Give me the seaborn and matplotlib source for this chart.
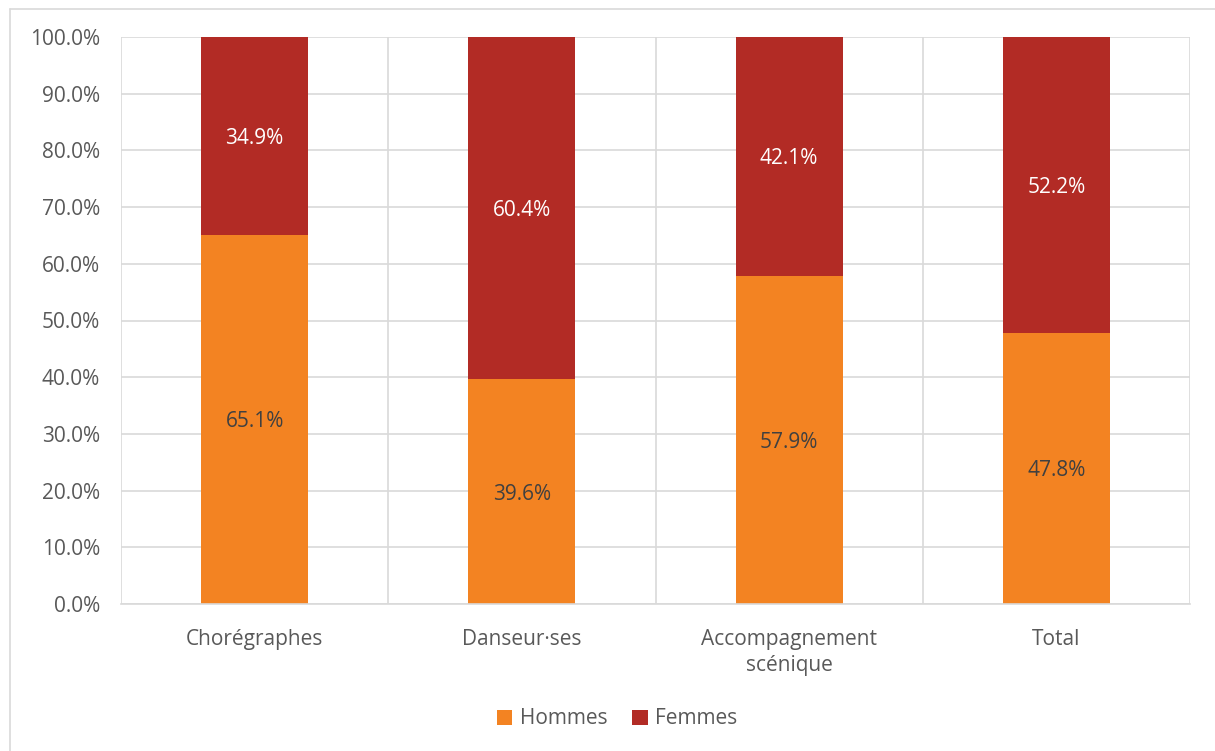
import matplotlib
matplotlib.use("Agg")
import matplotlib.pyplot as plt
import seaborn as sns
import pandas as pd
import numpy as np
from matplotlib.lines import Line2D
from matplotlib.patches import Patch

categories = ["Chorégraphes", "Danseur·ses", "Accompagnement\nscénique", "Total"]
hommes = [65.1, 39.6, 57.9, 47.8]
femmes = [34.9, 60.4, 42.1, 52.2]
series_names = ["Hommes", "Femmes"]
colors = ["#F38322", "#B22B25"]
yticks = [0, 10, 20, 30, 40, 50, 60, 70, 80, 90, 100]

sns.set_theme(style="white")
plt.rcParams["font.family"] = ["Open Sans", "DejaVu Sans"]

FS = 15
W, H = 1215, 751
fig = plt.figure(figsize=(W / 100, H / 100), dpi=100)
ax = fig.add_axes([121 / W, 1 - 604 / H, (1190 - 121) / W, (604 - 37) / H])

df = pd.DataFrame({"cat": categories, "Hommes": hommes, "Femmes": femmes})
df["tot"] = df["Hommes"] + df["Femmes"]

sns.barplot(data=df, x="cat", y="tot", color=colors[1], width=0.4, ax=ax,
            saturation=1, linewidth=0)
sns.barplot(data=df, x="cat", y="Hommes", color=colors[0], width=0.4, ax=ax,
            saturation=1, linewidth=0)

ax.set_ylim(0, 100)
ax.set_xlim(-0.5, 3.5)
ax.set_yticks(yticks)
ax.set_yticklabels([f"{v:.1f}%" for v in yticks], fontsize=FS, color="#595959")
ax.set_xticks(range(len(categories)))
ax.set_xticklabels(categories, fontsize=FS, color="#595959", linespacing=1.3)
ax.set_xlabel("")
ax.set_ylabel("")
ax.tick_params(axis="y", length=0, pad=15)
ax.tick_params(axis="x", length=0, pad=18)

ax.set_xticks(np.arange(-0.5, len(categories), 1.0), minor=True)
ax.tick_params(axis="x", which="minor", length=0)
ax.grid(True, axis="y", color="#D9D9D9", linewidth=1.2, zorder=0)
ax.grid(True, axis="x", which="minor", color="#D9D9D9", linewidth=1.2, zorder=0)
ax.grid(False, axis="x", which="major")
ax.set_axisbelow(True)
for s in ["top", "right", "left"]:
    ax.spines[s].set_visible(False)
ax.spines["bottom"].set_color("#D9D9D9")
ax.spines["bottom"].set_linewidth(1.2)

for i, (h, f) in enumerate(zip(hommes, femmes)):
    ax.text(i, h / 2, f"{h:.1f}%", ha="center", va="center_baseline", fontsize=FS, color="#404040")
    ax.text(i, h + f / 2, f"{f:.1f}%", ha="center", va="center_baseline", fontsize=FS, color="white")

handles = [Patch(facecolor=c, edgecolor="none") for c in colors]
fig.legend(handles, series_names, loc="center", bbox_to_anchor=(617 / W, 1 - 719 / H),
           ncol=2, frameon=False, fontsize=FS, handlelength=0.75, handleheight=0.75,
           handletextpad=0.35, columnspacing=1.2, labelcolor="#595959")

# outer border (left and top only)
fig.add_artist(Line2D([9.5 / W, 9.5 / W], [0, 1 - 8.5 / H], transform=fig.transFigure,
                      color="#D9D9D9", linewidth=1.2))
fig.add_artist(Line2D([9.5 / W, 1], [1 - 8.5 / H, 1 - 8.5 / H], transform=fig.transFigure,
                      color="#D9D9D9", linewidth=1.2))

fig.savefig("out.png", dpi=100)
